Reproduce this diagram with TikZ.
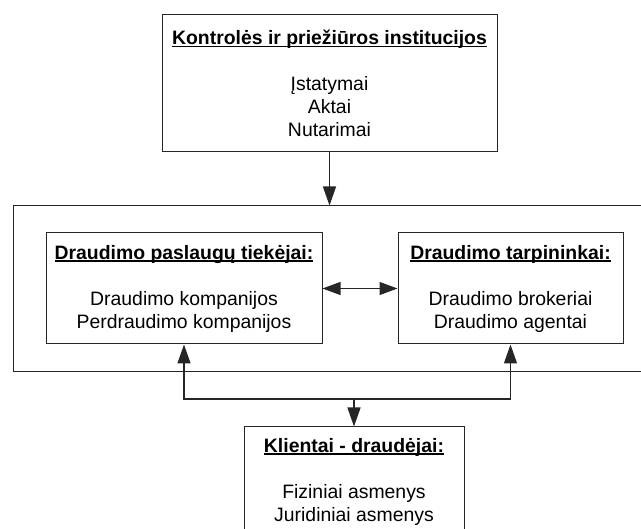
\documentclass[tikz,border=0pt]{standalone}
\usepackage{fontspec}
\setmainfont{Liberation Sans}
\usetikzlibrary{arrows.meta,positioning}
\newcommand{\boxtitle}[1]{\setbox0\hbox{\textbf{#1}}\rlap{\rule[-2.8pt]{\wd0}{1.4pt}}\box0}
\tikzset{
  box/.style={draw=black!85,line width=1pt,align=center,inner sep=0pt,font=\fontsize{19.4}{23}\selectfont},
  ar/.style={-{Triangle[length=19pt,width=13pt]},line width=1.3pt,draw=black!85},
  dar/.style={ar,{Triangle[length=18pt,width=13pt]}-{Triangle[length=18pt,width=13pt]}},
}
\begin{document}
\begin{tikzpicture}[x=1pt,y=-1pt]
  \useasboundingbox (0,0) rectangle (641,529);
  \clip (0,0) rectangle (641,529);
  \node[box,minimum width=335pt,minimum height=137pt] (ctrl) at (329.5,83.5)
    {\boxtitle{Kontrolės ir priežiūros institucijos}\\[23pt]Įstatymai\\Aktai\\Nutarimai};
  \node[box,minimum width=637pt,minimum height=166pt] (sector) at (331.5,289) {};
  \node[box,minimum width=276pt,minimum height=111pt] (ins) at (184,288.5)
    {\boxtitle{Draudimo paslaugų tiekėjai:}\\[23pt]Draudimo kompanijos\\Perdraudimo kompanijos};
  \node[box,minimum width=225pt,minimum height=111pt] (mid) at (510.5,288.5)
    {\boxtitle{Draudimo tarpininkai:}\\[23pt]Draudimo brokeriai\\Draudimo agentai};
  \node[box,minimum width=220pt,minimum height=109pt] (cli) at (354,481.5)
    {\boxtitle{Klientai - draudėjai:}\\[23pt]Fiziniai asmenys\\Juridiniai asmenys};
  \coordinate (jn) at (354,399);
  % rysiai
  \draw[ar] (ctrl.south) -- (ctrl.south |- sector.north);
  \draw[dar] (ins.east) -- (mid.west);
  \draw[ar] (jn) -| (ins.south);
  \draw[ar] (jn) -| (mid.south);
  \draw[ar] (jn) -- (cli.north);
\end{tikzpicture}
\end{document}
